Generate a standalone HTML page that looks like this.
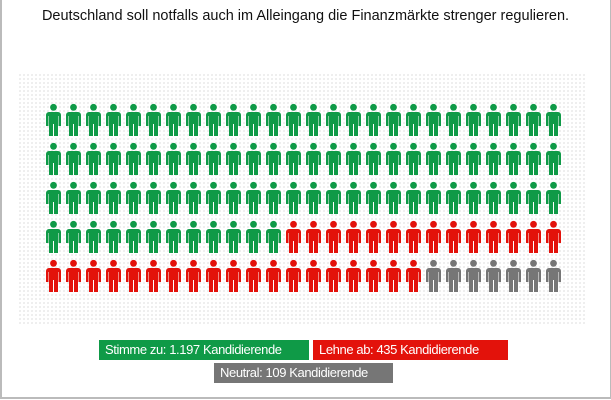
<!DOCTYPE html>
<html><head><meta charset="utf-8"><style>
body{margin:0;width:611px;height:400px;overflow:hidden;background:#fff;font-family:"Liberation Sans",sans-serif}
.frame{position:absolute;left:0;top:0;width:608px;height:397px;border:1px solid #bbb;border-width:0 2px 2px 2px}
.title{position:absolute;left:0;width:611px;top:8px;text-align:center;font-size:14.5px;color:#111}
.dots{position:absolute;left:18px;top:73px;width:568px;height:251px;background-image:radial-gradient(#e0e0e0 0.7px,transparent 0.9px);background-size:4px 4px}
.lg{position:absolute;height:20px;line-height:20px;color:#fff;font-size:13px;padding-left:6px;box-sizing:border-box;letter-spacing:-0.4px}
</style></head><body>
<div class="frame"></div>
<div class="title">Deutschland soll notfalls auch im Alleingang die Finanzmärkte strenger regulieren.</div>
<div class="dots"></div>
<svg width="611" height="400" style="position:absolute;left:0;top:0">
<defs><g id="p">
<circle cx="7.5" cy="3.3" r="3.4"/>
<path d="M3,8 h9 a3,3 0 0 1 3,3 v11 h-2.5 v-10 h-0.5 v20 h-4 v-12 h-1 v12 h-4 v-20 h-0.5 v10 h-2.5 v-11 a3,3 0 0 1 3,-3z"/>
</g></defs>
<g id="icons"></g>
</svg>
<div class="lg" style="left:99px;top:340px;width:210px;background:#0f9a47">Stimme zu: 1.197 Kandidierende</div>
<div class="lg" style="left:313px;top:340px;width:195px;background:#e3120b">Lehne ab: 435 Kandidierende</div>
<div class="lg" style="left:214px;top:363px;width:179px;background:#767676">Neutral: 109 Kandidierende</div>
<script>
var g=document.getElementById('icons'),s='';
for(var r=0;r<5;r++)for(var c=0;c<26;c++){var i=r*26+c;var col=i<90?'#0f9a47':(i<123?'#e3120b':'#767676');
s+='<use href="#p" x="'+(46+c*20)+'" y="'+(104+r*39)+'" fill="'+col+'"/>';}
g.innerHTML=s;
</script>
</body></html>
